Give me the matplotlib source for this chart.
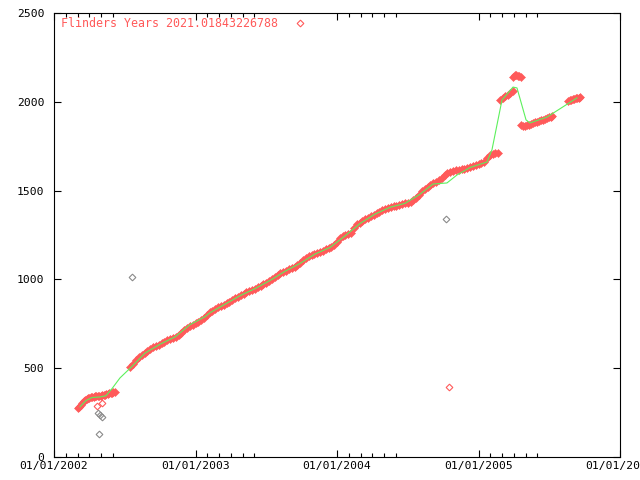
import matplotlib
matplotlib.use("Agg")
import matplotlib.pyplot as plt
from matplotlib.lines import Line2D
import numpy as np

BASE_YEAR = 2002

# ---- data (years since 01/01/2002, value) ----
early_t = [0.17, 0.18, 0.19, 0.20, 0.21, 0.22, 0.23, 0.24, 0.25, 0.26, 0.27, 0.28, 0.29,
           0.30, 0.31, 0.32, 0.33, 0.34, 0.35, 0.36, 0.37, 0.38, 0.39, 0.40, 0.41, 0.42, 0.43]
early_v = [278, 283, 292, 305, 316, 323, 327, 330, 334, 336, 338, 340, 341,
           343, 344, 345, 346, 348, 350, 351, 353, 356, 359, 361, 363, 365, 367]

main_t = [0.54, 0.56, 0.58, 0.60, 0.62, 0.64, 0.66, 0.68, 0.70, 0.72, 0.74, 0.76, 0.78,
          0.80, 0.82, 0.84, 0.86, 0.88, 0.90, 0.92, 0.94, 0.96, 0.98,
          1.00, 1.02, 1.04, 1.06, 1.08, 1.10, 1.12, 1.14, 1.16, 1.18, 1.20, 1.22, 1.24,
          1.26, 1.28, 1.30, 1.32, 1.34, 1.36, 1.38, 1.40, 1.42, 1.44, 1.46, 1.48, 1.50,
          1.52, 1.54, 1.56, 1.58, 1.60, 1.62, 1.64, 1.66, 1.68, 1.70, 1.72, 1.74, 1.76,
          1.78, 1.80, 1.82, 1.84, 1.86, 1.88, 1.90, 1.92, 1.94, 1.96, 1.98,
          2.00, 2.02, 2.04, 2.06, 2.08, 2.10, 2.12, 2.14, 2.16, 2.18, 2.20, 2.22, 2.24,
          2.26, 2.28, 2.30, 2.32, 2.34, 2.36, 2.38, 2.40, 2.42, 2.44, 2.46, 2.48, 2.50,
          2.52, 2.54, 2.56, 2.58, 2.60, 2.62, 2.64, 2.66, 2.68, 2.70, 2.72, 2.74, 2.76,
          2.78, 2.80, 2.82, 2.84, 2.86, 2.88, 2.90, 2.92, 2.94, 2.96, 2.98,
          3.00, 3.02, 3.04, 3.06, 3.08, 3.10, 3.12, 3.14]
main_v = [507, 522, 545, 565, 577, 587, 597, 609, 619, 626, 633, 640, 646,
          658, 665, 670, 676, 686, 700, 714, 725, 735, 745,
          755, 762, 773, 783, 800, 814, 822, 833, 843, 850, 858, 866, 875,
          884, 893, 901, 910, 919, 928, 936, 942, 948, 955, 965, 975, 981,
          990, 1001, 1014, 1026, 1036, 1043, 1050, 1057, 1064, 1071, 1080, 1093, 1108,
          1122, 1130, 1137, 1143, 1149, 1155, 1162, 1170, 1177, 1184, 1195,
          1212, 1232, 1242, 1248, 1255, 1262, 1290, 1310, 1318, 1328, 1338, 1348, 1358,
          1365, 1372, 1380, 1388, 1396, 1402, 1408, 1412, 1416, 1420, 1424, 1428, 1432,
          1438, 1448, 1460, 1478, 1496, 1510, 1522, 1534, 1543, 1550, 1557, 1572, 1590,
          1600, 1605, 1610, 1614, 1618, 1621, 1624, 1627, 1632, 1637, 1642,
          1648, 1654, 1660, 1683, 1698, 1706, 1710, 1714]

late_t = [3.152, 3.170, 3.187, 3.205, 3.223, 3.244,
          3.244, 3.255, 3.265, 3.276, 3.286, 3.300,
          3.300, 3.315, 3.329, 3.343, 3.357, 3.371, 3.385, 3.399, 3.413, 3.428,
          3.442, 3.456, 3.470, 3.484, 3.498, 3.510, 3.520,
          3.633, 3.644, 3.654, 3.665, 3.675, 3.686, 3.696, 3.707, 3.717]
late_v = [2010, 2020, 2030, 2040, 2048, 2058,
          2140, 2150, 2152, 2148, 2145, 2138,
          1868, 1866, 1866, 1869, 1872, 1876, 1880, 1884, 1888, 1891,
          1895, 1900, 1904, 1908, 1912, 1916, 1920,
          2005, 2009, 2012, 2015, 2018, 2020, 2022, 2024, 2026]

red_out_t = [0.304, 0.339, 2.792]
red_out_v = [287, 304, 394]

grey_t = [0.311, 0.325, 0.339, 0.318, 0.551, 2.770]
grey_v = [248, 236, 225, 130, 1013, 1340]

trend_t = [0.184, 0.226, 0.269, 0.325, 0.367, 0.410, 0.466, 0.551, 0.643, 0.749, 0.855,
           0.961, 1.067, 1.102, 1.208, 1.314, 1.420, 1.527, 1.633, 1.739, 1.845, 1.951,
           2.057, 2.163, 2.269, 2.375, 2.480, 2.587, 2.678, 2.777, 2.848, 2.940, 3.060,
           3.095, 3.166, 3.244, 3.272, 3.336, 3.364, 3.484, 3.696]
trend_v = [283, 318, 335, 338, 345, 385, 445, 510, 585, 635, 676,
           745, 790, 812, 860, 908, 948, 994, 1046, 1090, 1143, 1180,
           1245, 1315, 1368, 1406, 1428, 1480, 1537, 1543, 1588, 1630, 1661,
           1729, 2010, 2083, 2078, 1898, 1881, 1914, 2022]

legend_label = "Flinders Years 2021.01843226788"
year_ticks = [2002, 2003, 2004, 2005, 2006]
y_ticks = [0, 500, 1000, 1500, 2000, 2500]

RED = "#ff5a5a"
GREEN = "#5cf05c"
GREY = "#8a8a8a"

plt.rcParams["font.family"] = ["DejaVu Sans Mono"]
fig = plt.figure(figsize=(6.4, 4.8), dpi=100)
ax = fig.add_axes([54 / 640, 23 / 480, 566 / 640, 444 / 480])

def yrs(t):
    return BASE_YEAR + np.asarray(t)

pts_t = np.concatenate([yrs(early_t), yrs(main_t), yrs(late_t)])
pts_v = np.concatenate([early_v, main_v, late_v])
ax.plot(pts_t, pts_v, linestyle="none", marker="D", ms=4.4, mfc=RED, mec=RED, mew=0.4,
        zorder=2)
ax.plot(yrs(red_out_t), red_out_v, linestyle="none", marker="D", ms=3.4, mfc="none",
        mec=RED, mew=0.8, zorder=2)
ax.plot(yrs(grey_t), grey_v, linestyle="none", marker="D", ms=3.4, mfc="none",
        mec=GREY, mew=0.8, zorder=2)
ax.plot(yrs(trend_t), trend_v, color=GREEN, lw=0.8, zorder=3)

ax.set_xlim(2002, 2006)
ax.set_ylim(0, 2500)
ax.set_xticks(year_ticks)
ax.set_xticklabels([f"01/01/{y}" for y in year_ticks])
minor = [y + m / 12 for y in year_ticks[:-1] for m in range(1, 6)]
ax.set_xticks(minor, minor=True)
ax.set_yticks(y_ticks)
ax.set_yticklabels([str(v) for v in y_ticks], va="center_baseline")
ax.tick_params(which="both", direction="in", top=True, right=True, labelsize=8.2,
               width=0.8, colors="black")
ax.tick_params(which="major", length=5)
ax.tick_params(which="minor", length=3)
ax.tick_params(axis="x", pad=3)
ax.tick_params(axis="y", pad=7)
for s in ax.spines.values():
    s.set_linewidth(0.8)

handle = Line2D([], [], linestyle="none", marker="D", ms=3.4, mfc="none", mec=RED, mew=0.8)
ax.legend([handle], [legend_label], loc="center left", bbox_to_anchor=(0.012, 0.976),
          frameon=False, markerfirst=False, borderpad=0, borderaxespad=0,
          handlelength=1.0, handletextpad=1.4, fontsize=8.4, labelcolor=RED)

fig.savefig("out.png", dpi=100)
